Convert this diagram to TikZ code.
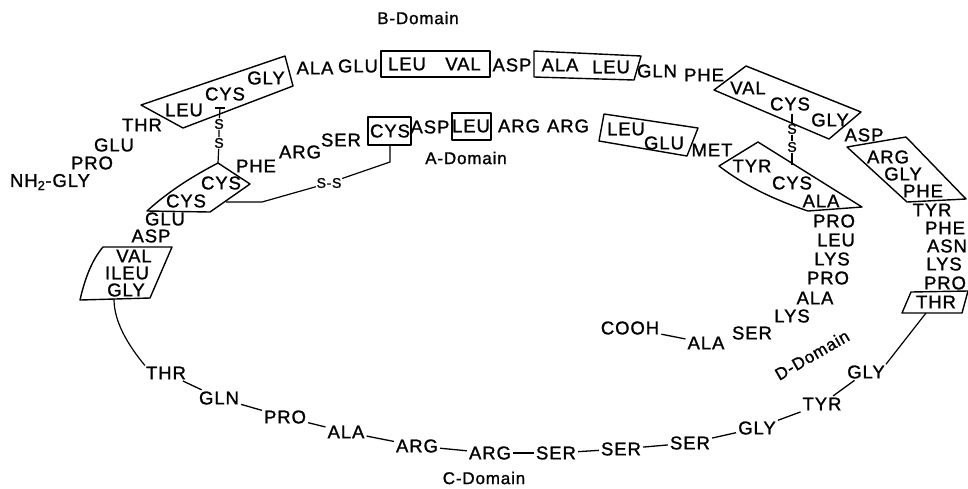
\documentclass[tikz,border=0pt]{standalone}
\usepackage{fontspec}
\setmainfont{Liberation Sans}[LetterSpace=5, FakeBold=1.2]
\begin{document}
\begin{tikzpicture}[x=1pt,y=-1pt,
  res/.style={font=\fontsize{18.5}{20}\selectfont, inner sep=1pt},
  dom/.style={font=\fontsize{17}{19}\selectfont, inner sep=1pt},
  sul/.style={font=\fontsize{14}{15}\selectfont, inner sep=0.6pt},
  link/.style={line width=1.3pt, shorten <=1pt, shorten >=1pt},
  frame/.style={line width=1.4pt, line join=round},
  bond/.style={line width=1.2pt}]
\useasboundingbox (0,0) rectangle (968,488);

% ---------- B chain (outer ring, top) ----------
\node[res] (bN)   at (50,182)  {NH\textsubscript{2}-GLY};
\node[res] (b2)   at (92,163)  {PRO};
\node[res] (b3)   at (114,145) {GLU};
\node[res] (b4)   at (142,125) {THR};
\draw[frame] (141,105) -- (285,56) -- (293,86) -- (183,128) -- cycle;
\node[res] (b5)   at (184,110) {LEU};
\node[res] (b6)   at (225,94)  {CYS};
\node[res] (b7)   at (266,78)  {GLY};
\node[res] (b8)   at (315,68)  {ALA};
\node[res] (b9)   at (358,66)  {GLU};
\draw[frame] (381,51) rectangle (490,77);
\node[res] (b10)  at (407,64)  {LEU};
\node[res] (b11)  at (463,64)  {VAL};
\node[res] (b12)  at (512,65)  {ASP};
\draw[frame] (534,51) -- (641,56) -- (634,80) -- (534,77) -- cycle;
\node[res] (b13)  at (560,65)  {ALA};
\node[res] (b14)  at (611,67)  {LEU};
\node[res] (b15)  at (657,71)  {GLN};
\node[res] (b16)  at (704,75)  {PHE};
\draw[frame] (714,90) -- (746,66) -- (861,112) -- (829,139) -- cycle;
\node[res] (b17)  at (748,88)  {VAL};
\node[res] (b18)  at (790,104) {CYS};
\node[res] (b19)  at (830,120) {GLY};
\node[res] (b20)  at (864,135) {ASP};
\draw[frame] (847,147) -- (906,137) -- (966,199) -- (907,202) -- cycle;
\node[res] (b21)  at (888,157) {ARG};
\node[res] (b22)  at (903,174) {GLY};
\node[res] (b23)  at (923,191) {PHE};
\node[res] (b24)  at (932,210) {TYR};
\node[res] (b25)  at (945,228) {PHE};
\node[res] (b26)  at (947,246) {ASN};
\node[res] (b27)  at (944,264) {LYS};
\node[res] (b28)  at (945,283) {PRO};
\draw[frame] (902,313) -- (911,292) -- (968,291) -- (962,313) -- cycle;
\node[res] (b29)  at (936,302) {THR};
\coordinate (b29foot) at (926,313);
\node[dom] (bdom) at (418,18)  {B-Domain};

% ---------- C chain (bottom) ----------
\node[res] (c1)  at (866,372) {GLY};
\node[res] (c2)  at (822,404) {TYR};
\node[res] (c3)  at (757,428) {GLY};
\node[res] (c4)  at (690,443) {SER};
\node[res] (c5)  at (621,449) {SER};
\node[res] (c6)  at (556,453) {SER};
\node[res] (c7)  at (490,453) {ARG};
\node[res] (c8)  at (417,446) {ARG};
\node[res] (c9)  at (346,432) {ALA};
\node[res] (c10) at (285,417) {PRO};
\node[res] (c11) at (219,398) {GLN};
\node[res] (c12) at (166,373) {THR};
\node[dom] (cdom) at (484,478) {C-Domain};
\draw[bond] (b29foot) -- (c1.north east);
\foreach \a/\b in {c1/c2,c2/c3,c3/c4,c4/c5,c5/c6,c6/c7,c7/c8,c8/c9,c9/c10,c10/c11,c11/c12}
  \draw[link] (\a) -- (\b);

% ---------- A chain (inner ring) ----------
\draw[frame] (103,247) -- (172,247) -- (150,298) -- (80,300)
  .. controls (85,278) and (92,260) .. cycle;
\coordinate (abox) at (114,299);
\draw[bond] (c12.north west) .. controls (128,345) and (114,322) .. (abox);
\node[res] (a1)  at (126,290) {GLY};
\node[res] (a2)  at (127,273) {ILEU};
\node[res] (a3)  at (134,256) {VAL};
\node[res] (a4)  at (151,236) {ASP};
\node[res] (a5)  at (165,219) {GLU};
\draw[frame] (147,211) .. controls (170,190) and (195,175) .. (218,163)
  -- (250,184) -- (210,212) -- cycle;
\node[res] (a6)  at (186,201) {CYS};
\node[res] (a7)  at (221,183) {CYS};
\node[res] (a8)  at (256,166) {PHE};
\node[res] (a9)  at (300,152) {ARG};
\node[res] (a10) at (341,140) {SER};
\draw[frame] (368,117) rectangle (411,145);
\node[res] (a11) at (390,131) {CYS};
\node[res] (a12) at (430,127) {ASP};
\draw[frame] (452,113) rectangle (491,140);
\node[res] (a13) at (471,126) {LEU};
\node[res] (a14) at (519,126) {ARG};
\node[res] (a15) at (568,126) {ARG};
\draw[frame] (604,114) -- (698,128) -- (687,156) -- (599,141) -- cycle;
\node[res] (a16) at (626,129) {LEU};
\node[res] (a17) at (664,143) {GLU};
\node[res] (a18) at (712,150) {MET};
\draw[frame] (719,166) -- (758,142) -- (862,207) -- (808,211)
  .. controls (775,200) and (745,186) .. cycle;
\node[res] (a19) at (752,166) {TYR};
\node[res] (a20) at (792,183) {CYS};
\node[res] (a21) at (821,201) {ALA};
\node[dom] (adom) at (466,158) {A-Domain};

% ---------- D chain ----------
\node[res] (d1) at (834,221) {PRO};
\node[res] (d2) at (836,240) {LEU};
\node[res] (d3) at (832,259) {LYS};
\node[res] (d4) at (828,278) {PRO};
\node[res] (d5) at (815,298) {ALA};
\node[res] (d6) at (792,316) {LYS};
\node[res] (d7) at (752,333) {SER};
\node[res] (d8) at (706,343) {ALA};
\node[res] (cooh) at (630,328) {COOH};
\draw[link] (cooh) -- (d8);
\node[dom, rotate=30] (ddom) at (812,355) {D-Domain};

% ---------- disulfide bridges ----------
\coordinate (ss1top) at (220,108);
\coordinate (ss1bot) at (218,163);
\node[sul] (ss1a) at (219,124) {S};
\node[sul] (ss1b) at (219,143) {S};
\draw[bond] (ss1top) -- (ss1a) -- (ss1b) -- (ss1bot);
\draw[bond] (215,108) -- (225,108);

\coordinate (ss2top) at (792,114);
\coordinate (ss2bot) at (792,165);
\node[sul] (ss2a) at (792,129) {S};
\node[sul] (ss2b) at (792,147) {S};
\draw[bond] (ss2top) -- (ss2a) -- (ss2b) -- (ss2bot);

\coordinate (ss3a) at (226,202);
\coordinate (ss3b) at (262,202);
\coordinate (ss3c) at (390,162);
\coordinate (ss3d) at (390,145);
\node[sul] (ss3) at (329,183) {S-S};
\draw[bond] (ss3a) -- (ss3b) -- (ss3);
\draw[bond] (ss3) -- (ss3c) -- (ss3d);
\end{tikzpicture}
\end{document}
